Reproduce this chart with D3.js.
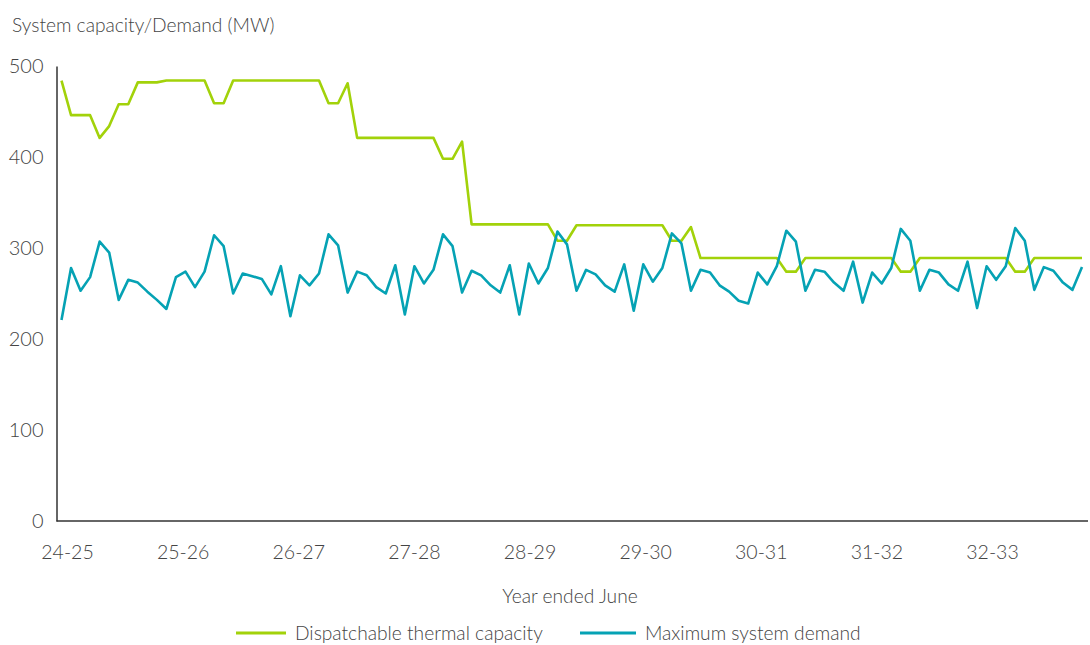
<!DOCTYPE html>
<html>
<head>
<meta charset="utf-8">
<script src="https://cdn.jsdelivr.net/npm/d3@7"></script>
<style>
  body { margin: 0; background: #fff; }
  svg text { font-family: Lato, "Open Sans", sans-serif; font-weight: 300; fill: #444; }
</style>
</head>
<body>
<div id="chart"></div>
<script>
// tick labels for the financial years (July - June)
var yearLabels = ["24-25", "25-26", "26-27", "27-28", "28-29", "29-30", "30-31", "31-32", "32-33"]
var yTicks = [0, 100, 200, 300, 400, 500]

// monthly values, 108 months from Jul 2024
var capacity = [
  484, 446, 446, 446, 421, 434, 458, 458, 482, 482, 482, 484,
  484, 484, 484, 484, 459, 459, 484, 484, 484, 484, 484, 484,
  484, 484, 484, 484, 459, 459, 481, 421, 421, 421, 421, 421,
  421, 421, 421, 421, 398, 398, 417, 326, 326, 326, 326, 326,
  326, 326, 326, 326, 308, 308, 325, 325, 325, 325, 325, 325,
  325, 325, 325, 325, 308, 308, 323, 289, 289, 289, 289, 289,
  289, 289, 289, 289, 274, 274, 289, 289, 289, 289, 289, 289,
  289, 289, 289, 289, 274, 274, 289, 289, 289, 289, 289, 289,
  289, 289, 289, 289, 274, 274, 289, 289, 289, 289, 289, 289
]

var demand = [
  221, 278, 253, 268, 307, 295, 243, 265, 262, 252, 243, 233,
  268, 274, 257, 274, 314, 302, 250, 272, 269, 266, 249, 280,
  225, 270, 259, 272, 315, 303, 251, 274, 270, 257, 250, 281,
  227, 280, 261, 276, 315, 302, 251, 275, 270, 259, 251, 281,
  227, 283, 261, 278, 318, 304, 253, 276, 271, 259, 252, 282,
  231, 282, 263, 278, 316, 305, 253, 276, 273, 259, 252, 242,
  239, 273, 260, 280, 319, 307, 253, 276, 274, 262, 253, 285,
  240, 273, 261, 278, 321, 308, 253, 276, 273, 260, 253, 285,
  234, 280, 265, 280, 322, 308, 254, 279, 275, 262, 254, 279
]

var seriesNames = ["Dispatchable thermal capacity", "Maximum system demand"]
var seriesColors = ["#a2d20a", "#05a2b4"]

var width = 1090, height = 645
var margin = {top: 66, right: 2, bottom: 124, left: 56.5}

var svg = d3.select("#chart").append("svg")
    .attr("width", width)
    .attr("height", height)

var xScale = d3.scaleLinear()
    .domain([0, capacity.length - 1])
    .range([61.5, 1082])

var yScale = d3.scaleLinear()
    .domain([0, 500])
    .range([height - margin.bottom, margin.top])

// year labels sit a little off the month points in the original
var yearScale = d3.scalePoint()
    .domain(yearLabels)
    .range([67, 992])

var line = d3.line()
    .x((d, i) => xScale(i))
    .y(d => yScale(d))

// y axis
var yAxis = d3.axisLeft(yScale)
    .tickValues(yTicks)
    .tickSize(0)
    .tickPadding(13)

var gy = svg.append("g")
    .attr("transform", "translate(" + margin.left + ",0)")
    .call(yAxis)
gy.select(".domain").attr("stroke", "#333").attr("stroke-width", 1.5)
gy.selectAll("text").attr("font-size", "20px").attr("fill", "#444")

// x axis
var gx = svg.append("g")
    .attr("transform", "translate(0," + (height - margin.bottom) + ")")
    .call(d3.axisBottom(yearScale).tickSize(0).tickPadding(24))
gx.select(".domain").remove()
gx.selectAll("text").attr("font-size", "19.5px").attr("fill", "#444")

svg.append("line")
    .attr("x1", margin.left)
    .attr("x2", width - margin.right)
    .attr("y1", yScale(0))
    .attr("y2", yScale(0))
    .attr("stroke", "#333")
    .attr("stroke-width", 1.5)

// series
svg.append("path")
    .attr("d", line(capacity))
    .attr("fill", "none")
    .attr("stroke", seriesColors[0])
    .attr("stroke-width", 2.6)
    .attr("stroke-linejoin", "round")

svg.append("path")
    .attr("d", line(demand))
    .attr("fill", "none")
    .attr("stroke", seriesColors[1])
    .attr("stroke-width", 2.6)
    .attr("stroke-linejoin", "round")

// titles
svg.append("text")
    .attr("x", 12)
    .attr("y", 32)
    .attr("font-size", "19.2px")
    .text("System capacity/Demand (MW)")

svg.append("text")
    .attr("x", 570)
    .attr("y", 603)
    .attr("text-anchor", "middle")
    .attr("font-size", "19.2px")
    .text("Year ended June")

// legend
var legendX = [236, 580]
var legendLen = [50, 56]
var legend = svg.selectAll(".legend")
    .data(seriesNames)
    .enter().append("g")
    .attr("class", "legend")
    .attr("transform", (d, i) => "translate(" + legendX[i] + ",633)")

legend.append("line")
    .attr("x1", 0)
    .attr("x2", (d, i) => legendLen[i])
    .attr("stroke", (d, i) => seriesColors[i])
    .attr("stroke-width", 3)

legend.append("text")
    .attr("x", (d, i) => legendLen[i] + 9)
    .attr("y", 7)
    .attr("font-size", "19.2px")
    .text(d => d)
</script>
</body>
</html>
